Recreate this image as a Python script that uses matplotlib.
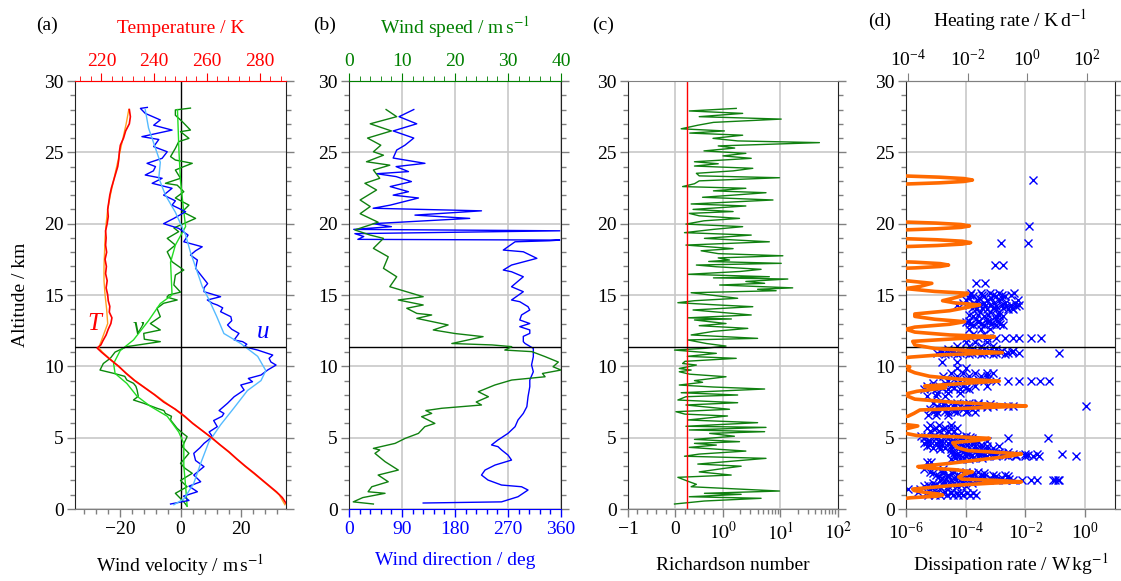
import numpy as np
import matplotlib
matplotlib.use('Agg')
import matplotlib.pyplot as plt
from matplotlib.ticker import MultipleLocator, FixedLocator, FixedFormatter, NullLocator

plt.rcParams['font.family'] = ['Liberation Serif', 'DejaVu Serif']
plt.rcParams['mathtext.fontset'] = 'stix'
plt.rcParams['font.size'] = 14

# ---------------- data ----------------
# (a) temperature, raw and smoothed
t_alt = [0.35, 0.8, 1.2, 1.6, 2.0, 2.5, 3.0, 3.5, 4.0, 4.5, 5.0, 5.5, 6.0, 6.5, 7.0, 7.5,
         8.0, 8.5, 9.0, 9.5, 10.0, 10.5, 11.0, 11.28, 11.5, 11.8, 12.2, 12.6, 13.0, 13.4,
         13.8, 14.2, 14.6, 15.0, 15.5, 16.0, 16.5, 17.0, 17.5, 18.0, 18.5, 19.0, 19.5,
         20.0, 20.5, 21.0, 21.5, 22.0, 22.5, 23.0, 23.5, 24.0, 24.5, 25.0, 25.5, 26.0,
         26.5, 27.0, 27.5, 28.0]
t_val = [290.2, 288.6, 286.4, 283.8, 281.2, 278.0, 274.6, 271.4, 268.4, 265.0, 261.8,
         258.2, 254.6, 251.6, 248.0, 243.6, 240.2, 236.4, 232.6, 229.4, 226.6, 223.2,
         220.0, 218.4, 219.8, 220.6, 221.8, 222.6, 223.6, 224.0, 223.0, 223.2, 222.6,
         222.4, 221.8, 222.2, 221.6, 221.9, 221.4, 222.0, 221.6, 221.8, 221.6, 222.2,
         222.6, 222.4, 222.8, 223.2, 223.8, 224.6, 225.4, 226.2, 226.6, 226.8, 227.2,
         228.4, 229.2, 230.6, 231.0, 230.6]
ts_alt = [0.3, 1, 2, 3, 4, 5, 6, 7, 8, 9, 10, 11, 11.3, 12, 13, 14, 15, 16, 17, 18, 19,
          20, 21, 22, 23, 24, 25, 26, 27, 28]
ts_val = [289.6, 287.4, 281.0, 274.4, 268.2, 261.6, 254.8, 247.8, 240.4, 232.8, 226.4,
          220.4, 219.0, 220.4, 222.4, 222.0, 221.4, 221.0, 221.0, 221.2, 221.4, 221.8,
          222.4, 223.4, 224.6, 225.8, 227.0, 228.2, 229.4, 230.4]

# (a) zonal wind u, raw and smoothed
u_alt = [0.35, 0.6, 0.9, 1.21, 1.6, 1.91, 2.38, 2.97, 3.4, 3.9, 4.3, 4.6, 5.07, 5.4,
         5.77, 6.2, 6.5, 6.7, 6.9, 7.41, 7.87, 8.34, 8.69, 8.92, 9.15, 9.39, 9.74,
         10.09, 10.3, 10.56, 10.79, 11.14, 11.38, 11.55, 11.73, 11.85, 12.31, 12.6,
         12.9, 13.2, 13.48, 13.83, 14.1, 14.3, 14.42, 14.65, 14.88, 15.23, 15.5, 15.8,
         16.28, 16.87, 17.45, 17.8, 18.1, 18.38, 18.73, 19.2, 19.67, 20.0, 20.37, 20.84,
         21.3, 21.6, 22.0, 22.48, 22.83, 23.18, 23.41, 23.7, 24.0, 24.23, 24.58, 25.04,
         25.4, 25.9, 26.1, 26.56, 26.9, 27.27, 27.73, 28.08, 28.15]
u_val = [-3.3, 2.8, 1.0, 5.6, 2.8, 6.7, 4.4, 7.8, 5.0, 4.4, 6.5, 7.8, 10.6, 9.5, 12.2,
         11.0, 13.8, 14.4, 12.8, 15.6, 17.8, 21.1, 20.0, 23.9, 22.5, 26.7, 28.9, 31.7,
         30.0, 29.4, 30.6, 25.6, 21.1, 22.0, 20.6, 17.8, 19.4, 17.0, 15.6, 17.0, 16.7,
         13.3, 14.0, 12.2, 10.6, 8.9, 13.3, 7.8, 7.8, 9.0, 7.2, 5.0, 5.6, 3.3, 5.0, 7.2,
         1.1, 2.5, -0.6, -5.6, -2.2, 1.7, -2.8, -1.7, -5.6, -2.8, -9.4, -6.1, -11.7,
         -9.0, -8.3, -11.1, -6.1, -4.4, -8.9, -7.2, -12.8, -2.8, -8.9, -6.7, -11.7,
         -13.3, -11.0]
us_alt = [0.3, 0.7, 1.8, 3.2, 4.7, 5.9, 7.1, 8.3, 9.0, 9.7, 10.7, 11.6, 12.3, 13.5,
          14.7, 15.6, 16.6, 18.0, 19.2, 20.8, 22.0, 23.2, 24.3, 26.7, 28.0]
us_val = [-2.2, 1.1, 4.4, 6.7, 9.4, 13.3, 17.8, 22.2, 26.7, 28.3, 25.6, 20.0, 14.4,
          12.0, 9.4, 7.2, 5.6, 3.3, 1.7, -1.7, -5.0, -7.2, -6.7, -10.6, -11.7]

# (a) meridional wind v, raw and smoothed
v_alt = [0.2, 0.5, 1.1, 1.56, 2.0, 2.5, 2.85, 3.2, 3.9, 4.37, 5.07, 5.35, 5.65, 6.24,
         6.5, 6.7, 6.9, 7.06, 7.41, 7.64, 7.9, 8.34, 8.6, 8.81, 9.04, 9.3, 9.51, 9.74,
         10.2, 10.56, 11.0, 11.38, 11.73, 11.9, 12.31, 12.55, 13.0, 13.48, 14.07, 14.42,
         14.65, 14.85, 15.0, 15.2, 15.7, 16.4, 16.75, 17.33, 18.03, 18.5, 18.97, 19.44,
         19.7, 20.37, 20.84, 21.3, 21.8, 22.24, 22.7, 22.83, 23.18, 23.76, 24.0, 24.23,
         24.46, 24.7, 25.28, 25.75, 25.98, 26.45, 26.56, 27.15, 27.6, 27.97, 28.1]
v_val = [2.2, 1.1, -1.7, 2.2, 0.0, 3.9, 1.5, 0.0, 2.8, 0.6, 2.2, 0.5, -1.1, -3.3, -3.0,
         -5.0, -5.5, -7.8, -12.2, -15.6, -14.0, -14.4, -14.8, -15.6, -17.8, -18.5,
         -22.2, -26.7, -25.6, -23.3, -21.7, -17.8, -6.7, -12.0, -12.2, -6.7, -10.0, -6.7,
         -7.8, -5.6, -1.1, -4.5, -3.9, 0.0, -2.2, -1.7, 1.1, -2.8, -4.4, -1.7, -4.4, -0.6,
         -2.2, 5.0, 0.6, 2.8, -1.7, 1.1, -1.1, -5.0, 0.0, -1.7, 1.1, 3.9, -1.7, -3.3,
         -1.7, -0.6, 2.8, 0.0, 3.3, 0.6, -1.7, -1.7, 3.3]
vs_alt = [0.2, 1.6, 3.0, 4.6, 5.4, 6.5, 7.2, 7.9, 8.8, 9.5, 10.2, 11.1, 11.85, 13.2,
          14.4, 15.0, 17.3, 18.5, 19.8, 21.0, 23.0, 25.0, 28.0]
vs_val = [2.2, 1.7, 1.1, 1.1, -0.6, -4.4, -10.0, -14.4, -17.8, -21.7, -22.2, -20.0,
          -15.6, -10.6, -6.7, -2.8, -3.3, -1.7, 1.7, 1.0, 0.0, -0.5, -1.0]

# (b) wind speed and direction
ws_alt = [0.35, 0.5, 0.8, 1.1, 1.21, 1.56, 1.91, 2.38, 2.73, 3.32, 3.9, 4.14, 4.25, 4.6,
          4.95, 5.3, 5.77, 6.0, 6.47, 6.7, 6.9, 7.06, 7.29, 7.5, 7.87, 8.22, 8.69, 9.04,
          9.27, 9.5, 9.74, 9.97, 10.3, 10.68, 11.03, 11.14, 11.38, 11.5, 11.6, 12.08,
          12.3, 12.55, 12.9, 13.36, 13.6, 13.71, 14.07, 14.3, 14.65, 14.88, 15.58, 16.28,
          16.87, 17.68, 18.27, 18.97, 19.2, 19.56, 20.1, 20.7, 21.2, 21.66, 22.36, 22.83,
          23.18, 23.76, 24.1, 24.34, 24.8, 25.04, 25.5, 26.0, 26.5, 27.0, 27.5, 28.0]
ws_val = [4.6, 0.8, 2.6, 6.8, 3.6, 4.3, 7.4, 5.5, 9.3, 6.8, 4.9, 5.8, 4.6, 8.7, 10.6,
          13.1, 14.3, 16.2, 13.7, 15.6, 14.5, 17.5, 25.0, 24.0, 26.3, 24.4, 27.5, 30.7,
          37.0, 36.5, 40.0, 38.5, 39.5, 37.0, 34.5, 29.4, 30.7, 27.0, 19.4, 25.3, 20.0,
          15.9, 18.7, 12.8, 15.6, 12.8, 10.9, 14.0, 9.3, 14.0, 7.7, 9.0, 6.5, 7.4, 4.6,
          6.5, 4.0, 1.1, 5.5, 2.1, 4.0, 2.1, 5.2, 3.0, 5.8, 4.6, 7.7, 3.3, 6.5, 4.6, 6.0,
          3.5, 8.0, 4.0, 9.0, 7.0]
wd_alt = [0.42, 0.5, 0.86, 1.33, 1.56, 1.68, 2.03, 2.38, 2.73, 3.08, 3.43, 3.78, 4.14,
          4.37, 4.49, 4.84, 5.3, 5.77, 6.24, 6.7, 7.17, 7.87, 8.57, 9.04, 9.62, 10.1,
          10.68, 11.26, 11.6, 11.73, 12.1, 12.31, 12.55, 12.78, 13.0, 13.25, 13.6, 13.95,
          14.18, 14.53, 14.65, 15.23, 15.58, 16.28, 16.63, 16.75, 17.1, 17.57, 18.03,
          18.15, 18.73, 18.8, 18.85, 18.9, 19.1, 19.3, 19.5, 19.6, 19.79, 20.0, 20.37,
          20.6, 20.9, 21.08, 21.3, 21.8, 22.0, 22.24, 22.6, 22.95, 23.3, 23.5, 23.65,
          24.0, 24.23, 24.6, 25.16, 25.5, 26.0, 26.5, 27.0, 27.5, 28.0]
wd_val = [126, 259, 287, 304, 293, 259, 236, 225, 231, 248, 276, 270, 259, 253, 242, 253,
          270, 282, 287, 296, 302, 304, 307, 307, 313, 310, 313, 313, 299, 296, 296, 307,
          307, 290, 307, 290, 293, 307, 304, 290, 276, 296, 276, 296, 276, 262, 276, 319,
          296, 262, 282, 340, 358, 15, 25, 10, 358, 8, 72, 41, 205, 112, 225, 41, 70, 118,
          75, 101, 70, 106, 80, 47, 101, 80, 129, 75, 81, 95, 110, 75, 115, 85, 110]

# (c) Richardson number
ri_alt = [0.35, 0.56, 0.75, 0.86, 1.03, 1.1, 1.26, 1.56, 1.73, 1.91, 2.22, 2.38, 2.6,
          2.85, 3.0, 3.15, 3.55, 3.7, 3.85, 4.06, 4.32, 4.48, 4.6, 4.72, 4.88, 5.1, 5.3,
          5.42, 5.54, 5.72, 5.8, 6.05, 6.24, 6.52, 6.65, 6.82, 6.99, 7.29, 7.45, 7.64,
          7.87, 7.99, 8.15, 8.41, 8.55, 8.69, 8.88, 9.0, 9.27, 9.45, 9.62, 9.74, 9.85,
          10.09, 10.2, 10.35, 10.56, 10.7, 10.91, 11.14, 11.26, 11.42, 11.6, 11.85, 11.96,
          12.2, 12.45, 12.66, 12.85, 13.0, 13.25, 13.32, 13.4, 13.6, 13.95, 14.18, 14.3,
          14.46, 14.6, 14.77, 15.16, 15.3, 15.4, 15.5, 15.7, 15.82, 15.95, 16.12, 16.2,
          16.28, 16.45, 16.65, 16.8, 16.98, 17.1, 17.22, 17.35, 17.45, 17.6, 17.75, 17.9,
          18.1, 18.25, 18.5, 18.73, 18.97, 19.2, 19.37, 19.6, 19.79, 19.97, 20.2, 20.37,
          20.55, 20.72, 20.85, 21.0, 21.24, 21.38, 21.66, 21.85, 22.0, 22.17, 22.3, 22.48,
          22.6, 22.8, 23.0, 23.22, 23.35, 23.53, 23.7, 23.88, 24.04, 24.2, 24.34, 24.58,
          24.75, 24.93, 25.1, 25.3, 25.45, 25.68, 25.8, 25.98, 26.2, 26.35, 26.5, 26.65,
          26.9, 27.1, 27.33, 27.5, 27.73, 27.9, 28.08]
ri_val = [-0.02, 0.61, 4.6, 0.29, 2.07, 0.61, 9.6, 0.33, 0.44, 0.29, 0.05, 1.39, 0.5,
          1.06, 2.07, 0.47, 5.6, 0.19, 0.5, 2.5, 0.29, 0.86, 0.4, 1.94, 0.4, 1.58, 0.72,
          5.3, 0.29, 5.6, 0.22, 4.0, 0.26, 1.2, 0.2, 0.01, 1.3, 0.22, 1.8, 0.05, 0.22, 1.8,
          0.12, 5.3, 0.8, 0.08, 0.57, 0.4, 1.13, 0.3, 0.08, 0.33, 0.08, 0.44, 0.15, 0.2,
          1.7, 0.25, 0.86, -0.02, 0.61, 1.13, 0.65, 0.26, 4.0, 0.33, 0.8, 2.7, 0.5, 1.13,
          0.4, 1.4, 0.26, 3.1, 0.37, 3.3, 0.9, 0.05, 0.4, 1.8, 0.33, 8.4, 4.0, 16.3, 0.93,
          5.3, 2.5, 13.4, 0.8, 6.4, 0.26, 2.0, 4.6, 0.86, 0.44, 10.3, 0.7, 1.3, 0.9, 11.0,
          0.9, 0.54, 1.5, 0.22, 6.4, 0.61, 3.1, 0.19, 0.8, 2.2, 0.22, 0.6, 1.94, 0.5, 0.29,
          1.5, 0.37, 2.5, 0.33, 7.4, 0.57, 1.5, 5.6, 0.8, 2.5, 0.15, 0.4, 0.5, 9.6, 0.5,
          0.44, 1.5, 3.3, 0.4, 0.9, 0.4, 3.1, 1.0, 2.5, 0.6, 1.6, 0.9, 47.5, 1.8, 0.79, 2.2,
          0.3, 1.06, 0.12, 0.47, 0.8, 10.3, 0.5, 2.2, 0.29, 1.7]
ri_crit = 0.25

# (d) heating rate (log10 K/d) and dissipation rate rows (log10 W/kg)
hr_alt = [0.45, 0.65, 0.79, 0.9, 0.98, 1.06, 1.15, 1.3, 1.4, 1.5, 1.65, 1.8, 1.91, 2.0,
          2.1, 2.25, 2.45, 2.6, 2.75, 2.9, 2.97, 3.05, 3.2, 3.45, 3.7, 3.86, 3.97, 4.1,
          4.3, 4.5, 4.65, 4.8, 4.95, 5.05, 5.15, 5.3, 5.45, 5.65, 5.82, 5.95, 6.1, 6.35,
          6.5, 6.7, 6.94, 7.05, 7.22, 7.35, 7.5, 7.7, 7.9, 8.05, 8.25, 8.5, 8.62, 8.78,
          8.97, 9.1, 9.3, 9.55, 9.75, 9.97, 10.12, 10.3, 10.5, 10.65, 10.8, 10.96, 11.1,
          11.25, 11.5, 11.75, 11.95, 12.08, 12.2, 12.4, 12.6, 12.75, 12.95, 13.13, 13.3,
          13.5, 13.67, 13.9, 14.1, 14.3, 14.45, 14.6, 14.8, 15.0, 15.12, 15.25, 15.45,
          15.6, 15.82, 16.0, 16.15,
          16.7, 16.8, 16.9, 17.0, 17.1, 17.2, 17.3, 17.4, 17.5,
          18.27, 18.37, 18.47, 18.57, 18.67, 18.77, 18.87, 18.97, 19.07,
          19.44, 19.54, 19.64, 19.74, 19.84, 19.94, 20.04, 20.14, 20.24,
          22.66, 22.76, 22.86, 22.96, 23.06, 23.16, 23.26, 23.36, 23.46]
hr_log = [-7, -4.5, -3.9, -3.0, -2.84, -3.0, -3.4, -3.8, -3.84, -3.3, -2.5, -1.3, -0.2,
          -1.0, -2.2, -2.3, -2.1, -1.84, -2.4, -3.5, -3.67, -3.3, -2.6, -1.6, -0.6, -0.2,
          -1.0, -2.0, -2.34, -2.44, -2.5, -1.7, -1.27, -2.2, -3.7, -4.07, -6, -4.0, -3.67,
          -4.2, -6, -6, -4.0, -3.8, -3.6, -2.2, -0.04, -1.3, -2.6, -3.77, -4.0, -4.1, -3.7,
          -2.74, -3.44, -2.27, -0.94, -2.27, -3.27, -3.77, -4.0, -3.94, -4.5, -6, -4.5,
          -3.9, -2.94, -0.84, -1.94, -3.1, -3.77, -3.84, -2.27, -1.1, -2.6, -3.77, -4.07,
          -3.77, -2.6, -2.1, -3.1, -3.77, -3.77, -2.6, -2.1, -1.6, -2.44, -2.84, -2.44,
          -2.1, -2.0, -3.1, -4.07, -3.6, -3.2, -4.07, -7,
          -7, -5.1, -3.76, -2.92, -2.64, -2.92, -3.76, -5.1, -7,
          -7, -4.4, -3.02, -2.18, -1.9, -2.18, -3.02, -4.4, -7,
          -7, -4.44, -3.06, -2.22, -1.94, -2.22, -3.06, -4.44, -7,
          -7, -4.34, -2.96, -2.12, -1.84, -2.12, -2.96, -4.34, -7]

eps_row_alt = [1.0, 1.1, 1.2, 1.4, 1.6, 1.7, 1.8, 2.0, 2.1, 2.2, 2.3, 2.4, 2.5, 2.6, 2.8,
               3.3, 3.5, 3.6, 3.7, 3.8, 3.85, 3.95, 4.0, 4.2, 4.3, 4.4, 4.5, 4.6, 4.7,
               4.8, 4.95, 5.05, 5.1, 5.5, 5.6, 5.7, 5.9, 6.6, 6.8, 6.9, 7.0, 7.15, 7.25,
               7.35, 7.45, 7.9, 8.1, 8.4, 8.5, 8.6, 8.8, 9.0, 9.1, 9.3, 9.5, 9.9, 10.3,
               10.85, 10.9, 11.0, 11.1, 11.2, 11.4, 11.7, 12.0, 12.3, 12.6, 12.9, 13.0,
               13.1, 13.2, 13.3, 13.5, 13.6, 13.8, 14.0, 14.1, 14.2, 14.3, 14.45, 14.65,
               14.8, 14.9, 15.0, 15.12, 15.83, 17.1, 18.67, 19.84, 23.06]
eps_row_log = [
    [-5.26, -5.03, -4.87, -4.64, -4.42, -4.26, -4.09, -3.87, -3.64],
    [-5.15, -4.95, -4.75, -4.5, -4.3, -4.15, -3.95, -3.75],
    [-5.6, -5.3, -5.0, -4.7, -4.5],
    [-5.92, -5.53, -5.2],
    [-5.4, -5.1, -4.9, -4.6, -4.3, -4.0],
    [-5.25, -5.0, -4.75, -4.45, -4.15],
    [-5.1, -4.7, -4.4, -4.1, -3.8],
    [-4.87, -4.5, -4.2, -3.9, -3.6, -3.3, -3.0, -2.7, -2.4, -2.1, -1.8, -1.6, -1.09,
     -1.0, -0.92, -0.87],
    [-4.65, -4.35, -4.05, -3.75, -3.45, -3.15, -2.85, -2.55],
    [-4.8, -4.4, -4.0, -3.6, -3.2, -2.8],
    [-4.9, -4.6, -4.2, -3.8, -3.4, -3.0, -2.6],
    [-5.0, -4.6, -4.3, -3.9, -3.5, -3.1, -2.7],
    [-5.1, -4.75, -4.45, -4.1, -3.75, -3.4],
    [-5.2, -4.8, -4.4, -4.0, -3.6],
    [-5.4, -4.75],
    [-5.3, -5.15],
    [-4.5, -4.2, -3.9],
    [-4.35, -4.05, -3.75, -3.45],
    [-4.4, -4.0, -3.6, -3.3, -3.0, -2.6, -2.3, -2.0, -1.75, -1.53, -0.29],
    [-4.2, -3.8, -3.4, -3.0, -2.7, -2.3, -1.9],
    [-4.3, -3.9, -3.5, -3.1, -2.8, -2.4, -2.0, -1.6, -0.78],
    [-4.4, -4.0, -3.6, -3.2, -2.8],
    [-4.5, -4.1, -3.7, -3.3, -2.9, -2.6],
    [-4.85, -4.5, -4.1, -3.7, -3.3],
    [-5.1, -4.7, -4.3, -3.9, -3.5, -3.1],
    [-5.3, -4.9, -4.5, -4.1, -3.7, -3.3, -2.9],
    [-5.2, -4.8, -4.35, -3.95, -3.5],
    [-5.4, -5.0, -4.6, -4.2, -3.8],
    [-5.3, -4.9, -4.5, -4.05, -3.7],
    [-5.2, -4.8, -4.4, -4.0, -3.6, -3.3],
    [-5.4, -5.0, -4.6, -4.2, -3.8, -2.6, -1.25],
    [-5.35, -4.95, -4.55, -4.15, -3.85],
    [-5.5, -5.1, -4.7, -4.3, -4.0],
    [-5.2, -4.9, -4.6, -4.4],
    [-5.05, -4.75, -4.5],
    [-5.3, -5.0, -4.7, -4.3],
    [-5.2, -4.9, -4.5],
    [-5.25, -5.0, -4.6],
    [-4.95, -4.6, -4.3, -4.0, -3.7],
    [-5.05, -4.7, -4.4, -3.95],
    [-5.2, -4.8, -4.5, -4.1, -3.8],
    [-4.8, -4.4, -4.05, -3.7, -3.3],
    [-4.95, -4.6, -4.2, -3.9, -3.5, -3.1, -2.6, -2.4, 0.02],
    [-4.75, -4.4, -4.0, -3.6, -3.2],
    [-5.1, -4.7, -4.3, -3.9, -3.6],
    [-5.3, -5.0, -4.7],
    [-4.95, -4.6, -4.2],
    [-5.4, -5.0, -4.6, -4.2, -3.9],
    [-5.15, -4.8, -4.4, -4.0],
    [-5.3, -4.9, -4.5, -4.1, -3.7, -3.3],
    [-5.1, -4.7, -4.3],
    [-4.6, -4.2, -3.8, -3.4, -3.0, -2.6, -2.2, -1.8, -1.5, -1.2],
    [-4.4, -4.0, -3.6, -3.25],
    [-4.75, -4.3, -3.9, -3.5, -3.3],
    [-4.5, -4.1, -3.7, -3.3, -3.1],
    [-4.3, -3.98],
    [-4.8, -4.3],
    [-4.7, -4.3, -3.9, -3.5, -3.1, -2.7],
    [-4.95, -4.6, -4.2, -3.8, -3.4, -3.0, -2.6, -2.2, -0.87],
    [-4.8, -4.45, -4.05, -3.65, -3.25, -2.85, -2.45],
    [-4.85, -4.4, -4.0, -3.6, -3.2, -2.8, -2.4],
    [-4.6, -4.2, -3.8, -3.4, -3.0],
    [-4.3, -3.9, -3.5, -3.1],
    [-4.0, -3.7, -3.3],
    [-4.0, -3.6, -3.3, -3.0, -2.7, -2.4, -2.2, -1.8, -1.48],
    [-3.76, -3.4],
    [-3.9, -3.5, -3.2],
    [-3.76, -3.4, -3.0, -2.75],
    [-3.85, -3.5, -3.15, -2.85],
    [-4.0, -3.6, -3.3, -2.9],
    [-3.9, -3.55, -3.2, -2.95],
    [-3.65, -3.3, -3.0],
    [-3.76, -3.4, -3.0, -2.75],
    [-3.9, -3.6, -3.25, -2.9],
    [-3.53, -3.2, -2.9],
    [-3.65, -3.3, -3.0, -2.6, -2.4],
    [-3.8, -3.45, -3.1, -2.75, -2.45],
    [-3.7, -3.35, -3.0, -2.65, -2.3],
    [-4.3, -3.9, -3.53, -3.2, -2.8, -2.5, -2.2],
    [-4.1, -3.75, -3.4, -3.05, -2.7, -2.35],
    [-3.98, -3.6, -3.3, -2.9, -2.26],
    [-3.9, -3.55, -3.15, -2.8],
    [-3.75, -3.4, -3.0, -2.7],
    [-3.85, -3.45, -3.1, -2.8, -2.5],
    [-3.81, -3.5, -3.2, -2.9, -2.37],
    [-3.64, -3.37],
    [-3.03, -2.76],
    [-2.81, -1.92],
    [-1.89],
    [-1.76],
]

tropopause = 11.35

# ---------------- figure ----------------
W, H = 1121, 581
fig = plt.figure(figsize=(W / 100, H / 100), dpi=100)


def px_axes(x0, x1, y0=81, y1=509):
    return fig.add_axes([x0 / W, 1 - y1 / H, (x1 - x0) / W, (y1 - y0) / H])


ax_a = px_axes(75, 286)
ax_b = px_axes(349, 561)
ax_c = px_axes(628, 838)
ax_d = px_axes(906, 1115)

GRID = '#c8c8c8'
TICK = '#808080'

for ax in (ax_a, ax_b, ax_c, ax_d):
    ax.set_ylim(0, 30)
    ax.yaxis.set_major_locator(MultipleLocator(5))
    ax.yaxis.set_minor_locator(MultipleLocator(1))
    ax.tick_params(which='both', direction='out', color=TICK, width=1)
    ax.tick_params(which='major', length=6, pad=3)
    ax.tick_params(which='minor', length=3.5)
    ax.tick_params(axis='y', which='both', left=True, right=True, labelright=False)
    ax.tick_params(axis='y', pad=2)
    ax.yaxis.grid(True, color=GRID, lw=1.2)
    ax.set_axisbelow(True)
    for s in ('left', 'right'):
        ax.spines[s].set_color('#222222')
    ax.spines['bottom'].set_color(TICK)
    ax.spines['top'].set_color(TICK)
    ax.axhline(tropopause, color='black', lw=1, zorder=3)

# ---- (a)
ax_a.set_xlim(-35, 35)
ax_a.xaxis.set_major_locator(MultipleLocator(20))
ax_a.xaxis.set_minor_locator(MultipleLocator(4))
ax_a.axvline(0, color='black', lw=1, zorder=1.5)
ax_a.plot(v_val, v_alt, color='#0a8a0a', lw=1)
ax_a.plot(vs_val, vs_alt, color='#22dd22', lw=1)
ax_a.plot(u_val, u_alt, color='#0000ff', lw=1)
ax_a.plot(us_val, us_alt, color='#55bbff', lw=1)
ax_a.set_xlabel(r'Wind velocity / m$\,$s$^{-1}$', labelpad=10)
ax_a.set_ylabel('Altitude / km', labelpad=11)
ax_a.text(-28.7, 13.0, 'T', color='red', style='italic', fontsize=18, ha='center', va='center')
ax_a.text(-14.0, 12.7, 'v', color='#0a8a0a', style='italic', fontsize=18, ha='center', va='center')
ax_a.text(27.3, 12.4, 'u', color='blue', style='italic', fontsize=18, ha='center', va='center')

ax_at = ax_a.twiny()
ax_at.set_xlim(210, 290)
ax_at.xaxis.set_major_locator(MultipleLocator(20))
ax_at.xaxis.set_minor_locator(MultipleLocator(4))
ax_at.plot(ts_val, ts_alt, color='#ffa020', lw=1)
ax_at.plot(t_val, t_alt, color='#ff0000', lw=1.2)
ax_at.tick_params(which='both', direction='out', color='red', labelcolor='red')
ax_at.tick_params(which='major', length=6, pad=2)
ax_at.tick_params(which='minor', length=3.5)
ax_at.spines['top'].set_color('red')
ax_at.set_xlabel('Temperature / K', color='red', labelpad=14)

# ---- (b)
ax_b.set_xlim(0, 360)
ax_b.xaxis.set_major_locator(MultipleLocator(90))
ax_b.xaxis.set_minor_locator(MultipleLocator(18))
ax_b.xaxis.grid(True, color=GRID, lw=1.2)
ax_b.plot(wd_val, wd_alt, color='#0000ff', lw=1)
ax_b.tick_params(axis='x', which='both', color='blue', labelcolor='blue')
ax_b.spines['bottom'].set_color('blue')
ax_b.set_xlabel('Wind direction / deg', color='blue', labelpad=10)

ax_bt = ax_b.twiny()
ax_bt.set_xlim(0, 40)
ax_bt.xaxis.set_major_locator(MultipleLocator(10))
ax_bt.xaxis.set_minor_locator(MultipleLocator(2))
ax_bt.plot(ws_val, ws_alt, color='#108010', lw=1)
ax_bt.tick_params(which='both', direction='out', color='green', labelcolor='green')
ax_bt.tick_params(which='major', length=6, pad=2)
ax_bt.tick_params(which='minor', length=3.5)
ax_bt.spines['top'].set_color('green')
ax_bt.set_xlabel(r'Wind speed / m$\,$s$^{-1}$', color='green', labelpad=14)

# ---- (c)
ax_c.set_xscale('symlog', linthresh=1, linscale=0.743)
ax_c.set_xlim(-1, 100)
ax_c.xaxis.set_major_locator(FixedLocator([-1, 0, 1, 10, 100]))
ax_c.xaxis.set_major_formatter(FixedFormatter(['\u22121', '0', '$10^0$', '$10^1$', '$10^2$']))
ax_c.xaxis.set_minor_locator(FixedLocator(
    [-0.8, -0.6, -0.4, -0.2, 0.2, 0.4, 0.6, 0.8, 2, 3, 4, 5, 6, 7, 8, 9,
     20, 30, 40, 50, 60, 70, 80, 90]))
ax_c.tick_params(axis='x', which='both', top=False)
for gx in (0, 1, 10):
    ax_c.axvline(gx, color=GRID, lw=1.2, zorder=0.5)
ax_c.plot(ri_val, ri_alt, color='#108010', lw=1)
ax_c.axvline(ri_crit, color='red', lw=1, zorder=2.5)
ax_c.set_xlabel('Richardson number', labelpad=10)

# ---- (d)
ax_d.set_xscale('log')
ax_d.set_xlim(1e-6, 10)
ax_d.xaxis.set_major_locator(FixedLocator([1e-6, 1e-4, 1e-2, 1]))
ax_d.xaxis.set_minor_locator(NullLocator())
ax_d.xaxis.grid(True, color=GRID, lw=1.2)
e_alt = [a for a, row in zip(eps_row_alt, eps_row_log) for _ in row]
e_val = [10.0 ** v for row in eps_row_log for v in row]
ax_d.plot(e_val, e_alt, ls='none', marker='x', ms=5.5, mew=1, color='#0000ff')
ax_d.set_xlabel(r'Dissipation rate / W$\,$kg$^{-1}$', labelpad=6)

k = 86400 / 1004.0
ax_dt = ax_d.twiny()
ax_dt.set_xscale('log')
ax_dt.set_xlim(1e-6 * k, 10 * k)
ax_dt.xaxis.set_major_locator(FixedLocator([1e-4, 1e-2, 1, 1e2]))
ax_dt.xaxis.set_minor_locator(NullLocator())
ax_dt.plot([10.0 ** v for v in hr_log], hr_alt, color='#ff6a00', lw=2.6, solid_joinstyle='round')
ax_dt.tick_params(which='both', direction='out', color=TICK)
ax_dt.tick_params(which='major', length=6, pad=2)
ax_dt.spines['top'].set_color(TICK)
ax_dt.set_xlabel(r'Heating rate / K$\,$d$^{-1}$', labelpad=16)

for tw in (ax_at, ax_bt, ax_dt):
    for s in ('left', 'right', 'bottom'):
        tw.spines[s].set_visible(False)

for lab, x, y in (('(a)', 47, 25), ('(b)', 325, 25), ('(c)', 603, 25), ('(d)', 880, 21)):
    fig.text(x / W, 1 - y / H, lab, ha='center', va='center')

fig.savefig('out.png', dpi=100)
